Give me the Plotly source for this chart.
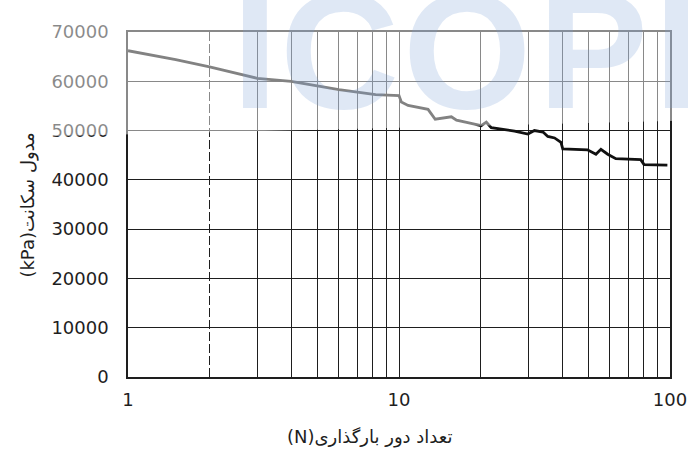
import plotly.graph_objects as go

# Number of loading cycles (N) and secant modulus (kPa)
cycles = [1, 1.5, 2, 2.5, 3, 4, 4.77, 6, 8.2, 10, 10.2, 10.8, 12.8, 13.6, 15.6, 16.3,
          19, 20.1, 21, 21.9, 26.7, 29.9, 31.6, 34, 35.4, 37.5, 39.6, 40.2, 49.6,
          53.3, 55.6, 58.9, 63.1, 78, 80.2, 97.8]
modulus = [66200, 64400, 62900, 61600, 60600, 60000, 59200, 58300, 57300, 57100, 55800,
           55100, 54300, 52300, 52800, 52100, 51300, 51000, 51700, 50600, 49900, 49300,
           50000, 49700, 48800, 48500, 47600, 46300, 46100, 45200, 46200, 45200, 44300,
           44100, 43100, 43000]

y_ticks = [0, 10000, 20000, 30000, 40000, 50000, 60000, 70000]
x_major = [1, 3, 4, 5, 6, 7, 8, 9, 10, 20, 30, 40, 50, 60, 70, 80, 90, 100]
x_labels = {1: "1", 10: "10", 100: "100"}
x_dashed = [2]

x_title = "(N)تعداد دور بارگذاری"
y_title = "(kPa)مدول سکانت"
watermark = ["I", "C", "O", "P", "I"]
watermark_x = [0.234, 0.391, 0.625, 0.858, 1.013]

ink = "#1e1e1e"
font = "DejaVu Sans"

fig = go.Figure()
fig.add_trace(go.Scatter(
    x=cycles, y=modulus, mode="lines",
    line=dict(color="#111111", width=2.8),
    showlegend=False, hoverinfo="skip",
))

fig.update_layout(
    width=688, height=473,
    margin=dict(l=128, r=18, t=32, b=96),
    paper_bgcolor="white", plot_bgcolor="white",
    xaxis=dict(
        type="log", range=[0, 2], automargin=False,
        tickmode="array", tickvals=x_major,
        ticktext=[x_labels.get(v, "") for v in x_major],
        showgrid=True, gridcolor=ink, gridwidth=1.3,
        showline=True, linecolor=ink, linewidth=1.5, mirror=True,
        ticks="", zeroline=False,
        tickfont=dict(family=font, size=18, color=ink),
        ticklabelstandoff=6, ticklabeloverflow="allow",
        minor=dict(tickmode="array", tickvals=x_dashed, showgrid=True,
                   gridcolor=ink, gridwidth=1.2, griddash="9px,3px", ticks=""),
    ),
    yaxis=dict(
        range=[0, 70000], automargin=False,
        tickmode="array", tickvals=y_ticks,
        ticktext=[str(v) for v in y_ticks],
        showgrid=True, gridcolor=ink, gridwidth=1.3,
        showline=True, linecolor=ink, linewidth=1.5, mirror=True,
        ticks="", zeroline=False,
        tickfont=dict(family=font, size=18, color=ink),
        ticklabelstandoff=14,
    ),
)

# Lighter, slightly slanted band across the top of the figure
fig.add_shape(
    type="path", xref="paper", yref="paper",
    path="M -0.3,0.692 L 1.05,0.744 L 1.05,1.12 L -0.3,1.12 Z",
    fillcolor="white", opacity=0.48, line=dict(width=0), layer="above",
)

# Background watermark letters
for letter, px in zip(watermark, watermark_x):
    fig.add_annotation(
        text=letter, xref="paper", yref="paper", x=px, y=0.945,
        xanchor="center", yanchor="middle", showarrow=False,
        font=dict(family="Liberation Sans", size=165, weight="bold",
                  color="rgba(120,160,215,0.24)"),
    )

# Axis titles
fig.add_annotation(
    text=x_title, xref="paper", yref="paper", x=0.446, y=-0.174,
    xanchor="center", yanchor="middle", showarrow=False,
    font=dict(family=font, size=18, color=ink),
)
fig.add_annotation(
    text=y_title, xref="paper", yref="paper", x=-0.185, y=0.499,
    xanchor="center", yanchor="middle", showarrow=False, textangle=-90,
    font=dict(family=font, size=18, color=ink),
)

fig.write_html("out.html")
